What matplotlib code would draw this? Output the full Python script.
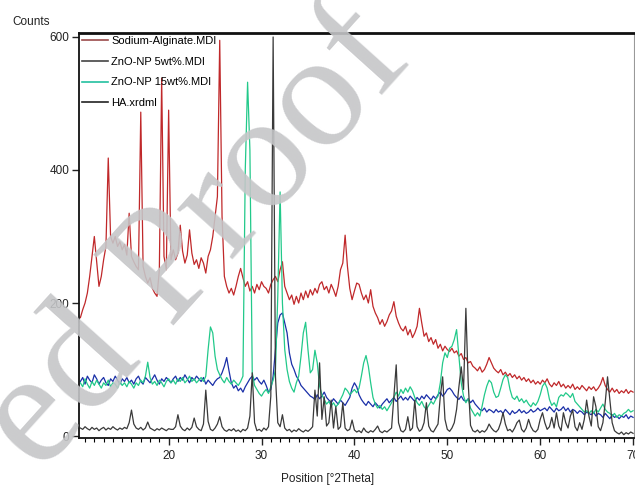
import numpy as np
import matplotlib
matplotlib.use("Agg")
import matplotlib.pyplot as plt
from matplotlib.lines import Line2D

plt.rcParams['font.family'] = ['Liberation Sans Narrow', 'Liberation Sans', 'DejaVu Sans']

# 2Theta grid, 0.25 deg steps from 10.5 to 70
two_theta = np.arange(10.5, 70.001, 0.25)

sodium_alginate = [
    178, 190, 200, 215, 240, 270, 300, 262, 225, 240, 265, 285, 418, 300, 290, 300, 285, 292, 280, 288,
    272, 335, 270, 262, 255, 250, 487, 255, 240, 230, 238, 222, 215, 210, 250, 538, 270, 250, 490, 265,
    280, 265, 275, 317, 278, 260, 272, 310, 275, 258, 265, 252, 268, 260, 245, 270, 280, 300, 330, 360,
    595, 330, 240, 225, 215, 222, 212, 225, 240, 252, 238, 225, 232, 218, 225, 215, 228, 220, 232, 225,
    222, 215, 228, 235, 240, 232, 250, 262, 225, 215, 205, 212, 198, 210, 200, 215, 205, 218, 208, 220,
    212, 222, 215, 228, 232, 220, 225, 215, 228, 220, 210, 225, 250, 260, 302, 255, 222, 205, 218, 230,
    228, 215, 205, 212, 200, 220, 195, 185, 178, 168, 175, 165, 172, 182, 188, 202, 180, 170, 162, 158,
    165, 152, 160, 148, 155, 165, 192, 170, 150, 155, 142, 148, 138, 145, 132, 138, 128, 135, 130, 127,
    132, 125, 128, 120, 124, 115, 118, 110, 112, 105, 102, 98, 104, 96, 100, 108, 118, 110, 102, 98,
    95, 100, 92, 96, 90, 94, 88, 92, 86, 90, 84, 88, 82, 86, 80, 84, 78, 82, 78, 84,
    80, 86, 78, 74, 80, 76, 82, 74, 78, 72, 76, 72, 78, 70, 74, 70, 76, 72, 68, 74,
    70, 74, 68, 72, 78, 88, 76, 70, 66, 72, 66, 70, 64, 68, 65, 70, 64, 68, 66,
]

zno_5wt = [
    82, 88, 78, 90, 84, 80, 92, 86, 78, 84, 88, 80, 76, 86, 82, 90, 84, 78, 86, 82,
    88, 80, 84, 78, 86, 90, 82, 78, 88, 84, 80, 86, 92, 84, 78, 86, 82, 88, 84, 80,
    86, 90, 82, 88, 84, 92, 86, 80, 88, 84, 90, 86, 82, 88, 78, 84, 80, 76, 82, 86,
    88, 95, 105, 118, 98, 80, 72, 76, 68, 72, 66, 74, 80, 86, 90, 84, 88, 82, 78, 84,
    76, 66, 70, 90, 130, 170, 182, 185, 170, 155, 125, 108, 100, 90, 84, 76, 72, 68, 64, 60,
    58, 55, 62, 56, 60, 66, 58, 54, 50, 56, 52, 48, 54, 50, 46, 52, 58, 72, 80, 74,
    62, 55, 50, 46, 52, 48, 44, 50, 46, 42, 48, 52, 56, 50, 54, 58, 52, 56, 60, 54,
    58, 54, 60, 56, 52, 58, 54, 60, 56, 62, 58, 54, 60, 56, 62, 66, 60, 64, 70, 72,
    68, 62, 58, 55, 60, 54, 52, 56, 50, 54, 48, 44, 40, 38, 42, 36, 40, 38, 35, 40,
    36, 38, 34, 40, 36, 32, 38, 34, 36, 40, 35, 38, 34, 36, 40, 36, 38, 42, 38, 40,
    42, 38, 44, 40, 36, 42, 38, 40, 44, 38, 42, 36, 40, 38, 34, 38, 36, 32, 36, 34,
    32, 36, 30, 34, 32, 28, 34, 30, 26, 32, 28, 30, 26, 30, 28, 32, 26, 30, 28,
]

zno_15wt = [
    80, 74, 86, 78, 72, 82, 76, 84, 78, 72, 80, 76, 84, 74, 80, 78, 72, 82, 76, 80,
    74, 82, 78, 72, 80, 76, 84, 80, 90, 111, 88, 78, 82, 76, 84, 80, 74, 82, 86, 80,
    84, 78, 86, 82, 88, 80, 84, 90, 82, 86, 80, 84, 88, 82, 90, 130, 164, 155, 120, 100,
    92, 85, 80, 88, 82, 78, 84, 80, 76, 82, 90, 400, 532, 430, 95, 76, 70, 64, 60, 66,
    70, 64, 74, 84, 100, 210, 367, 200, 130, 100, 82, 72, 66, 80, 90, 120, 155, 171, 130, 95,
    100, 129, 110, 75, 62, 55, 48, 52, 45, 50, 44, 48, 55, 62, 72, 68, 62, 66, 70, 65,
    72, 90, 110, 121, 105, 80, 58, 48, 42, 46, 40, 44, 38, 44, 50, 58, 66, 60, 70, 64,
    72, 66, 74, 68, 58, 50, 46, 52, 44, 40, 46, 52, 48, 55, 60, 80, 110, 125, 118, 132,
    135, 145, 160, 120, 80, 60, 50, 56, 42, 36, 30, 35, 30, 45, 62, 75, 84, 80, 66, 58,
    60, 72, 85, 92, 88, 70, 58, 55, 60, 52, 56, 50, 54, 48, 44, 50, 46, 52, 62, 75,
    80, 72, 55, 46, 50, 44, 58, 62, 60, 65, 62, 58, 64, 52, 48, 44, 40, 36, 38, 34,
    38, 34, 40, 36, 42, 48, 40, 36, 34, 30, 34, 28, 32, 30, 34, 36, 40, 36, 38,
]

ha = [
    12, 10, 14, 11, 9, 13, 10, 12, 8, 11, 13, 9, 12, 10, 14, 11, 9, 12, 10, 13,
    11, 20, 39, 18, 12, 10, 13, 9, 12, 21, 12, 10, 8, 11, 9, 12, 10, 8, 11, 10,
    10, 14, 32, 15, 10, 8, 12, 9, 13, 27, 14, 10, 8, 18, 69, 22, 10, 8, 12, 18,
    29, 14, 9, 7, 10, 8, 11, 7, 9, 6, 10, 8, 12, 30, 95, 20, 8, 10, 7, 12,
    9, 14, 60, 600, 90, 20, 14, 32, 12, 8, 10, 6, 9, 7, 11, 8, 6, 9, 7, 10,
    14, 69, 30, 110, 25, 59, 15, 20, 54, 12, 44, 10, 14, 50, 12, 8, 10, 24, 9, 6,
    8, 5, 12, 7, 5, 8, 6, 10, 15, 7, 5, 8, 6, 9, 12, 60, 107, 20, 8, 6,
    10, 29, 8, 12, 54, 14, 7, 10, 20, 50, 15, 8, 6, 12, 18, 60, 89, 25, 10, 7,
    12, 20, 40, 74, 104, 70, 192, 80, 16, 8, 6, 9, 5, 8, 6, 10, 18, 12, 8, 6,
    10, 20, 35, 18, 8, 10, 6, 12, 20, 24, 10, 6, 12, 25, 14, 8, 6, 10, 25, 35,
    20, 10, 14, 28, 12, 35, 15, 8, 35, 20, 12, 30, 39, 14, 8, 20, 10, 25, 54, 30,
    15, 59, 44, 14, 8, 20, 50, 89, 54, 20, 8, 5, 3, 6, 2, 5, 3, 6, 4,
]

series_labels = ["Sodium-Alginate.MDI", "ZnO-NP 5wt%.MDI", "ZnO-NP 15wt%.MDI", "HA.xrdml"]

fig = plt.figure(figsize=(6.35, 4.88), dpi=100)
ax = fig.add_axes([79 / 635, 1 - 438 / 488, 555 / 635, 405 / 488])

ax.plot(two_theta, sodium_alginate, color='#c0282a', lw=0.9)
ax.plot(two_theta, zno_5wt, color='#1a2fa8', lw=0.9)
ax.plot(two_theta, zno_15wt, color='#22c98a', lw=0.9)
ax.plot(two_theta, ha, color='#3a3a3a', lw=0.9)

ax.set_xlim(10.35, 70.1)
ax.set_ylim(-3, 606)
ax.set_xticks([20, 30, 40, 50, 60, 70])
ax.set_xticks(np.arange(11, 71, 1), minor=True)
ax.set_yticks([0, 200, 400, 600])
ax.tick_params(axis='both', which='major', length=5, width=1, labelsize=8.5, colors='#222222')
ax.tick_params(axis='x', which='minor', length=3, width=0.8)
ax.tick_params(axis='y', pad=2)

for side in ['left', 'bottom', 'top']:
    ax.spines[side].set_color('#111111')
    ax.spines[side].set_linewidth(1.3)
ax.spines['top'].set_linewidth(2)
ax.spines['right'].set_color('#999999')

fig.text(12 / 635, 1 - 22 / 488, "Counts", fontsize=8.5, va='center', ha='left', color='#222222')
fig.text(328 / 635, 1 - 479 / 488, "Position [°2Theta]", fontsize=8.5, va='center', ha='center', color='#222222')

handles = [
    Line2D([], [], color='#9b4a4a', lw=1.2),
    Line2D([], [], color='#444444', lw=1.2),
    Line2D([], [], color='#22c0a0', lw=1.2),
    Line2D([], [], color='#222222', lw=1.2),
]
ax.legend(handles, series_labels, loc='upper left', bbox_to_anchor=(0.0, 1.0), frameon=False,
          fontsize=8, handlelength=2.3, handletextpad=0.3, labelspacing=0.95,
          borderaxespad=0.05, borderpad=0.25)

# watermark
fig.text(198 / 635, 1 - 240 / 488, "ed Proof", fontsize=118, family='Liberation Serif',
         color='#c5c6c8', alpha=0.9, rotation=48, ha='center', va='center', zorder=10)

fig.savefig("out.png", dpi=100)
